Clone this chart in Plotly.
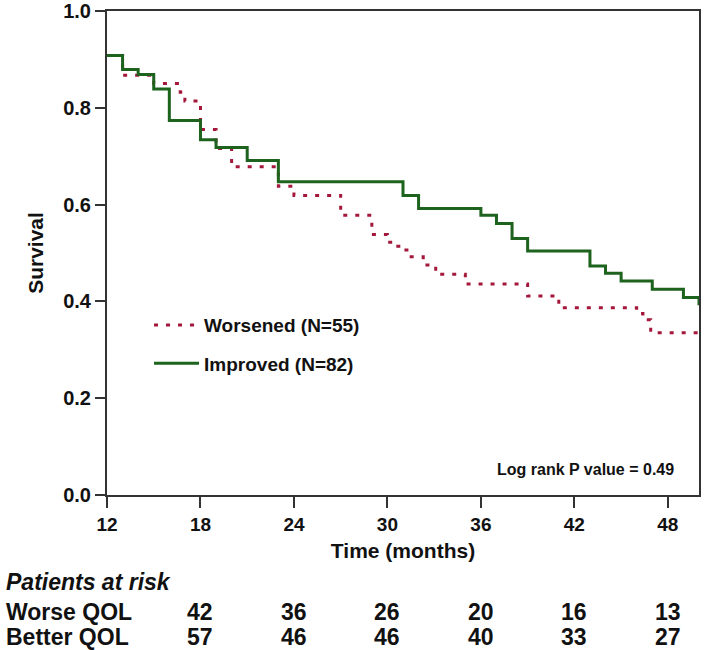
import plotly.graph_objects as go

# Kaplan-Meier step data (time in months, survival probability)
improved_t = [12, 13, 14, 15, 16, 18, 19, 21, 23, 31, 32, 36, 37, 38, 39, 43, 44, 45, 47, 49, 50]
improved_s = [0.908, 0.879, 0.869, 0.839, 0.774, 0.734, 0.718, 0.691, 0.647, 0.619, 0.592,
              0.578, 0.561, 0.530, 0.504, 0.473, 0.458, 0.442, 0.425, 0.408, 0.392]

worsened_t = [12, 13, 15, 16.7, 17, 18, 19, 20, 23, 24, 27, 29, 30, 30.5, 31, 31.4, 32.3, 33.1,
              35, 39, 41, 46, 46.4, 46.9, 50]
worsened_s = [0.908, 0.867, 0.850, 0.832, 0.814, 0.755, 0.716, 0.678, 0.638, 0.619, 0.578, 0.538,
              0.522, 0.514, 0.506, 0.492, 0.475, 0.456, 0.436, 0.411, 0.387, 0.375, 0.362, 0.335, 0.335]

# Patients at risk table
risk_times = [18, 24, 30, 36, 42, 48]
risk_worse = [42, 36, 26, 20, 16, 13]
risk_better = [57, 46, 46, 40, 33, 27]

x_ticks = [12, 18, 24, 30, 36, 42, 48]
y_ticks = [0.0, 0.2, 0.4, 0.6, 0.8, 1.0]

FONT = "Liberation Sans, Arial, sans-serif"
GREEN = "#1d621d"
RED = "#a3183a"
AX = "#333333"
TXT = "#111111"

fig = go.Figure()
fig.add_trace(go.Scatter(
    x=worsened_t, y=worsened_s, mode="lines", line_shape="hv",
    line=dict(color=RED, width=3, dash="4px,8px"),
    name="Worsened (N=55)", legend="legend", hoverinfo="skip"))
fig.add_trace(go.Scatter(
    x=improved_t, y=improved_s, mode="lines", line_shape="hv",
    line=dict(color=GREEN, width=3),
    name="Improved (N=82)", legend="legend2", hoverinfo="skip"))

W, H = 709, 650
L, R, T, B = 107, 10, 11, 155

fig.update_layout(
    width=W, height=H,
    margin=dict(l=L, r=R, t=T, b=B, autoexpand=False),
    paper_bgcolor="white", plot_bgcolor="white",
    font=dict(family=FONT, color=TXT, size=18, weight="bold"),
    showlegend=True,
    legend=dict(x=0.071, y=0.351, xanchor="left", yanchor="middle",
                bgcolor="rgba(0,0,0,0)", itemwidth=45,
                font=dict(size=19, family=FONT, weight="bold", color=TXT)),
    legend2=dict(x=0.071, y=0.272, xanchor="left", yanchor="middle",
                 bgcolor="rgba(0,0,0,0)", itemwidth=45,
                 font=dict(size=19, family=FONT, weight="bold", color=TXT)),
    xaxis=dict(range=[12, 50], tickvals=x_ticks, ticktext=[str(v) for v in x_ticks],
               automargin=False, ticklabeloverflow="allow",
               showgrid=False, zeroline=False, showline=True, linecolor=AX, linewidth=2,
               mirror=True, ticks="outside", ticklen=11, tickwidth=2, tickcolor=AX,
               tickfont=dict(size=19, family=FONT, weight="bold", color=TXT),
               title=dict(text="Time (months)", standoff=10,
                          font=dict(size=21, family=FONT, weight="bold", color=TXT))),
    yaxis=dict(range=[0, 1], tickvals=y_ticks, ticktext=[f"{v:.1f}" for v in y_ticks],
               automargin=False, ticklabeloverflow="allow",
               showgrid=False, zeroline=False, showline=True, linecolor=AX, linewidth=2,
               mirror=True, ticks="outside", ticklen=10, tickwidth=2, tickcolor=AX,
               tickfont=dict(size=20, family=FONT, weight="bold", color=TXT),
               title=dict(text="Survival", standoff=14,
                          font=dict(size=21, family=FONT, weight="bold", color=TXT))),
)

# Log rank annotation
fig.add_annotation(text="Log rank P value = 0.49", xref="paper", yref="paper",
                   x=0.961, y=0.052, xanchor="right", yanchor="middle", showarrow=False,
                   font=dict(size=16, family=FONT, weight="bold", color=TXT))

# Patients-at-risk table
plot_h = H - T - B
def py(ypix):
    return (H - B - ypix) / plot_h
def px(xpix):
    return (xpix - L) / (W - L - R)

TBL = 23
fig.add_annotation(text="<i>Patients at risk</i>", xref="paper", yref="paper",
                   x=px(4), y=py(582), xanchor="left", yanchor="middle", showarrow=False,
                   font=dict(size=TBL, family=FONT, weight="bold", color=TXT))
fig.add_annotation(text="Worse QOL", xref="paper", yref="paper",
                   x=px(4), y=py(612), xanchor="left", yanchor="middle", showarrow=False,
                   font=dict(size=TBL, family=FONT, weight="bold", color=TXT))
fig.add_annotation(text="Better QOL", xref="paper", yref="paper",
                   x=px(4), y=py(637), xanchor="left", yanchor="middle", showarrow=False,
                   font=dict(size=TBL, family=FONT, weight="bold", color=TXT))
for t, w, b in zip(risk_times, risk_worse, risk_better):
    fig.add_annotation(text=str(w), xref="x", yref="paper", x=t, y=py(612),
                       xanchor="center", yanchor="middle", showarrow=False,
                       font=dict(size=TBL, family=FONT, weight="bold", color=TXT))
    fig.add_annotation(text=str(b), xref="x", yref="paper", x=t, y=py(637),
                       xanchor="center", yanchor="middle", showarrow=False,
                       font=dict(size=TBL, family=FONT, weight="bold", color=TXT))

fig.write_html("out.html",
               config={"displayModeBar": False},
               post_script="document.body.style.margin='0';document.body.style.padding='0';")
